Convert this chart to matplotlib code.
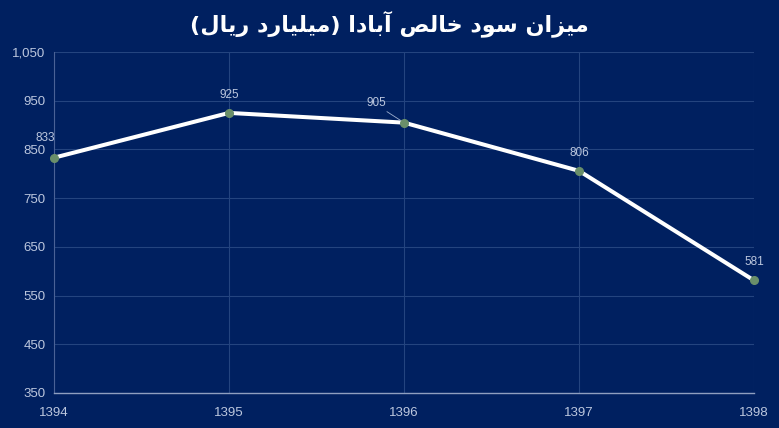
import matplotlib
matplotlib.use("Agg")
import matplotlib.pyplot as plt
from matplotlib.ticker import FuncFormatter

# ---- data ----
years = ["1394", "1395", "1396", "1397", "1398"]
profit = [833, 925, 905, 806, 581]
title_text = "میزان سود خالص آبادا (میلیارد ریال)"

# ---- minimal Persian shaping (matplotlib has no complex text layout) ----
FORMS = {
    "\u0627": ("\uFE8D", "\uFE8E", None, None),
    "\u0622": ("\uFE81", "\uFE82", None, None),
    "\u0628": ("\uFE8F", "\uFE90", "\uFE91", "\uFE92"),
    "\u062F": ("\uFEA9", "\uFEAA", None, None),
    "\u0631": ("\uFEAD", "\uFEAE", None, None),
    "\u0632": ("\uFEAF", "\uFEB0", None, None),
    "\u0633": ("\uFEB1", "\uFEB2", "\uFEB3", "\uFEB4"),
    "\u0635": ("\uFEB9", "\uFEBA", "\uFEBB", "\uFEBC"),
    "\u062E": ("\uFEA5", "\uFEA6", "\uFEA7", "\uFEA8"),
    "\u0644": ("\uFEDD", "\uFEDE", "\uFEDF", "\uFEE0"),
    "\u0645": ("\uFEE1", "\uFEE2", "\uFEE3", "\uFEE4"),
    "\u0646": ("\uFEE5", "\uFEE6", "\uFEE7", "\uFEE8"),
    "\u0648": ("\uFEED", "\uFEEE", None, None),
    "\u06CC": ("\uFBFC", "\uFBFD", "\uFBFE", "\uFBFF"),
}


def joins_next(c):
    return c in FORMS and FORMS[c][2] is not None


def shape(text):
    out = []
    n = len(text)
    for i, c in enumerate(text):
        if c not in FORMS:
            out.append(c)
            continue
        prev = text[i - 1] if i > 0 else ""
        nxt = text[i + 1] if i < n - 1 else ""
        jp = joins_next(prev)
        jn = joins_next(c) and nxt in FORMS
        iso, fin, ini, med = FORMS[c]
        if jp and jn:
            out.append(med)
        elif jp:
            out.append(fin)
        elif jn:
            out.append(ini)
        else:
            out.append(iso)
    vis = "".join(reversed(out))
    vis = vis.replace("(", "\0").replace(")", "(").replace("\0", ")")
    return vis


BG = "#002060"
GRID = "#24447f"
TXT = "#bcc7de"

plt.rcParams["font.family"] = ["Liberation Sans Narrow", "Liberation Sans", "DejaVu Sans"]

fig = plt.figure(figsize=(7.79, 4.28), dpi=100, facecolor=BG)
ax = fig.add_axes([0.0693, 0.0818, 0.8987, 0.7967], facecolor=BG)

x = list(range(len(years)))
ax.plot(x, profit, color="white", linewidth=2.9, zorder=3,
        solid_capstyle="round", clip_on=False)
ax.plot(x, profit, linestyle="none", marker="o", markersize=5.5,
        markerfacecolor="#6a8f6a", markeredgecolor="#6a8f6a", zorder=4,
        clip_on=False)

ax.set_xlim(0, len(years) - 1)
ax.set_ylim(350, 1050)
ax.set_yticks(range(350, 1051, 100))
ax.yaxis.set_major_formatter(FuncFormatter(lambda v, p: f"{int(v):,}"))
ax.set_xticks(x)
ax.set_xticklabels(years)

ax.grid(True, color=GRID, linewidth=0.8)
ax.set_axisbelow(True)
for s in ["top", "right"]:
    ax.spines[s].set_visible(False)
ax.spines["left"].set_color("#4a6296")
ax.spines["left"].set_linewidth(0.8)
ax.spines["bottom"].set_color("#8f9fc0")
ax.spines["bottom"].set_linewidth(1.0)
ax.tick_params(length=0, colors=TXT, labelsize=9.5)
ax.tick_params(axis="x", pad=10)
ax.tick_params(axis="y", pad=6)

offsets = [(-6, 14), (0, 13), (-20, 14), (0, 13), (0, 13)]
for i, (xi, v) in enumerate(zip(x, profit)):
    dx, dy = offsets[i]
    ax.annotate(str(v), (xi, v), xytext=(dx, dy), textcoords="offset points",
                ha="center", va="center", color=TXT, fontsize=8.5,
                annotation_clip=False)
# leader line for 905 label
ax.annotate("", (x[2], profit[2]), xytext=(-14, 9), textcoords="offset points",
            arrowprops=dict(arrowstyle="-", color="#9fb0d0", linewidth=0.6))

fig.text(0.5, 0.945, shape(title_text), ha="center", va="center", color="white",
         fontsize=16, fontweight="bold", fontfamily=["DejaVu Sans"])

fig.savefig("out.png", dpi=100, facecolor=BG)
